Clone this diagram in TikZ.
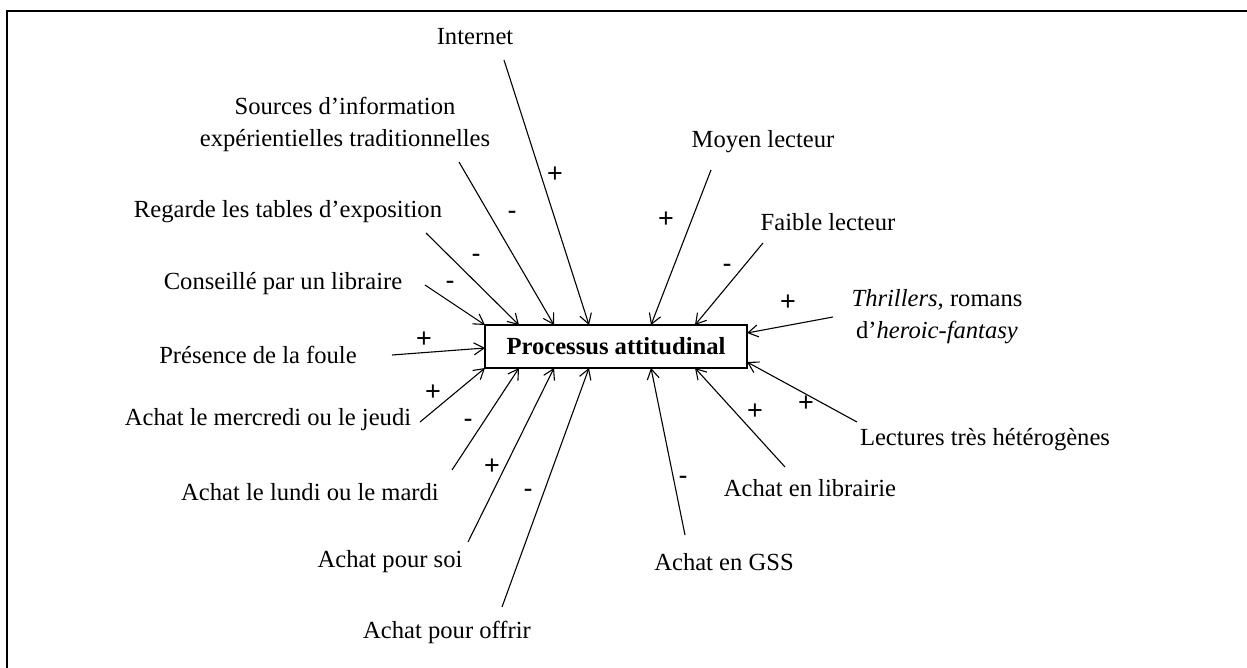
\documentclass[tikz,border=0pt]{standalone}
\usepackage{fontspec}
\setmainfont{Liberation Serif}
\newfontfamily\signfont{Liberation Sans}
\usetikzlibrary{arrows.meta}
\begin{document}
\begin{tikzpicture}[x=0.5pt,y=-0.5pt,
  lbl/.style={font=\fontsize{12.3}{16}\selectfont, inner sep=0pt, align=center},
  sgn/.style={font=\signfont\fontsize{13.5}{16}\selectfont, inner sep=0pt},
  arr/.style={-{Straight Barb[length=5pt,width=6pt]}, line width=0.55pt},
  mainbox/.style={draw, line width=0.8pt, minimum width=131pt, minimum height=21.5pt, inner sep=0pt, font=\fontsize{12.3}{16}\selectfont\bfseries}]
\useasboundingbox (0,0) rectangle (1247,668);
\draw[line width=1.3pt] (7,668) -- (7,11) -- (1247,11);

\node[mainbox] (box) at (616,346.5) {Processus attitudinal};

% tips on the box
\coordinate (t1) at (485,325);
\coordinate (t2) at (519,325);
\coordinate (t3) at (554,325);
\coordinate (t4) at (589,325);
\coordinate (t5) at (651,325);
\coordinate (t6) at (695,325);
\coordinate (r1) at (747,333);
\coordinate (r2) at (747,362);
\coordinate (l1) at (485,348);
\coordinate (b1) at (485,368);
\coordinate (b2) at (519,368);
\coordinate (b3) at (554,368);
\coordinate (b4) at (589,368);
\coordinate (b5) at (651,368);
\coordinate (b6) at (695,368);

% labels
\node[lbl] (internet) at (475,37) {Internet};
\node[lbl] (sources) at (345,124) {Sources d’information\\expérientielles traditionnelles};
\node[lbl] (regarde) at (288,212) {Regarde les tables d’exposition};
\node[lbl] (conseille) at (283,284) {Conseillé par un libraire};
\node[lbl] (presence) at (258,355) {Présence de la foule};
\node[lbl] (mercredi) at (268,420) {Achat le mercredi ou le jeudi};
\node[lbl] (lundi) at (310,492) {Achat le lundi ou le mardi};
\node[lbl] (soi) at (390,562) {Achat pour soi};
\node[lbl] (offrir) at (447,632) {Achat pour offrir};
\node[lbl] (gss) at (724,562) {Achat en GSS};
\node[lbl] (librairie) at (810,488) {Achat en librairie};
\node[lbl] (lectures) at (985,440) {Lectures très hétérogènes};
\node[lbl] (thrillers) at (937,317) {\textit{Thrillers}, romans\\d’\textit{heroic-fantasy}};
\node[lbl] (faible) at (828,222) {Faible lecteur};
\node[lbl] (moyen) at (763,142) {Moyen lecteur};

% start points of connectors
\coordinate (sInternet) at (504,60);
\coordinate (sSources) at (459,162);
\coordinate (sRegarde) at (426,233);
\coordinate (sConseille) at (425,285);
\coordinate (sPresence) at (392,355);
\coordinate (sMercredi) at (420,422);
\coordinate (sLundi) at (452,470);
\coordinate (sSoi) at (468,542);
\coordinate (sOffrir) at (502,607);
\coordinate (sGss) at (685,535);
\coordinate (sLibrairie) at (785,467);
\coordinate (sLectures) at (857,422);
\coordinate (sThrillers) at (833,317);
\coordinate (sFaible) at (763,243);
\coordinate (sMoyen) at (711,170);

\draw[arr] (sInternet) -- (t4);
\draw[arr] (sSources) -- (t3);
\draw[arr] (sRegarde) -- (t2);
\draw[arr] (sConseille) -- (t1);
\draw[arr] (sPresence) -- (l1);
\draw[arr] (sMercredi) -- (b1);
\draw[arr] (sLundi) -- (b2);
\draw[arr] (sSoi) -- (b3);
\draw[arr] (sOffrir) -- (b4);
\draw[arr] (sGss) -- (b5);
\draw[arr] (sLibrairie) -- (b6);
\draw[arr] (sLectures) -- (r2);
\draw[arr] (sThrillers) -- (r1);
\draw[arr] (sFaible) -- (t6);
\draw[arr] (sMoyen) -- (t5);

% signs
\node[sgn] (pInternet) at (555,175) {+};
\node[sgn] (mSources) at (512,215) {-};
\node[sgn] (mRegarde) at (476,258) {-};
\node[sgn] (mConseille) at (450,285) {-};
\node[sgn] (pPresence) at (424,340) {+};
\node[sgn] (pMercredi) at (433,393) {+};
\node[sgn] (mLundi) at (468,423) {-};
\node[sgn] (pSoi) at (492,467) {+};
\node[sgn] (mOffrir) at (528,493) {-};
\node[sgn] (mGss) at (683,480) {-};
\node[sgn] (pLibrairie) at (755,412) {+};
\node[sgn] (pLectures) at (806,404) {+};
\node[sgn] (pThrillers) at (788,303) {+};
\node[sgn] (mFaible) at (727,268) {-};
\node[sgn] (pMoyen) at (666,220) {+};
\end{tikzpicture}
\end{document}
